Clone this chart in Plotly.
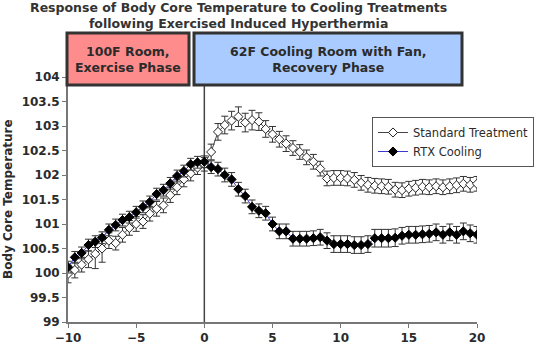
import plotly.graph_objects as go

# Time relative to start of the cooling phase (minutes)
minutes = [
    -10, -9.5, -9, -8.5, -8, -7.5, -7, -6.5, -6, -5.5,
    -5, -4.5, -4, -3.5, -3, -2.5, -2, -1.5, -1, -0.5,
    0, 0.5, 1, 1.5, 2, 2.5, 3, 3.5, 4, 4.5,
    5, 5.5, 6, 6.5, 7, 7.5, 8, 8.5, 9, 9.5,
    10, 10.5, 11, 11.5, 12, 12.5, 13, 13.5, 14, 14.5,
    15, 15.5, 16, 16.5, 17, 17.5, 18, 18.5, 19, 19.5, 20,
]

standard_temp = [
    99.98, 100.06, 100.17, 100.28, 100.39, 100.50, 100.66, 100.61, 100.78, 100.92,
    101.00, 101.05, 101.21, 101.31, 101.38, 101.59, 101.75, 101.91, 102.03, 102.15,
    102.22, 102.47, 102.88, 103.02, 103.11, 103.19, 103.07, 103.12, 103.09, 102.94,
    102.83, 102.73, 102.64, 102.55, 102.47, 102.36, 102.27, 102.13, 101.93, 101.94,
    101.94, 101.93, 101.90, 101.84, 101.80, 101.78, 101.77, 101.76, 101.70, 101.69,
    101.72, 101.74, 101.76, 101.75, 101.77, 101.75, 101.77, 101.79, 101.82, 101.80, 101.82,
]
standard_err = [
    0.18, 0.16, 0.15, 0.17, 0.30, 0.28, 0.16, 0.14, 0.15, 0.15,
    0.15, 0.14, 0.15, 0.15, 0.15, 0.15, 0.15, 0.15, 0.15, 0.14,
    0.14, 0.16, 0.17, 0.18, 0.19, 0.20, 0.19, 0.20, 0.18, 0.17,
    0.16, 0.16, 0.16, 0.15, 0.15, 0.15, 0.15, 0.15, 0.15, 0.15,
    0.15, 0.15, 0.15, 0.15, 0.15, 0.15, 0.15, 0.15, 0.15, 0.15,
    0.15, 0.15, 0.15, 0.15, 0.15, 0.15, 0.15, 0.15, 0.15, 0.15, 0.15,
]

rtx_temp = [
    100.12, 100.32, 100.41, 100.57, 100.64, 100.72, 100.88, 100.98, 101.08, 101.14,
    101.24, 101.35, 101.45, 101.61, 101.69, 101.83, 101.98, 102.08, 102.22, 102.26,
    102.27, 102.16, 102.12, 102.00, 101.91, 101.71, 101.57, 101.35, 101.27, 101.22,
    101.00, 100.85, 100.85, 100.70, 100.70, 100.70, 100.71, 100.73, 100.66, 100.59,
    100.59, 100.59, 100.57, 100.57, 100.59, 100.71, 100.71, 100.71, 100.72, 100.76,
    100.78, 100.78, 100.79, 100.80, 100.83, 100.78, 100.83, 100.78, 100.85, 100.81, 100.78,
]
rtx_err = [
    0.12, 0.12, 0.12, 0.12, 0.12, 0.12, 0.12, 0.12, 0.12, 0.12,
    0.12, 0.12, 0.12, 0.12, 0.12, 0.12, 0.12, 0.12, 0.12, 0.12,
    0.12, 0.13, 0.14, 0.14, 0.14, 0.14, 0.14, 0.14, 0.14, 0.14,
    0.14, 0.15, 0.15, 0.15, 0.15, 0.15, 0.15, 0.16, 0.16, 0.17,
    0.17, 0.17, 0.17, 0.17, 0.17, 0.18, 0.18, 0.18, 0.18, 0.17,
    0.17, 0.17, 0.17, 0.17, 0.17, 0.17, 0.17, 0.17, 0.17, 0.17, 0.17,
]

phase_labels = ["100F Room,<br>Exercise Phase", "62F Cooling Room with Fan,<br>Recovery Phase"]
phase_colors = ["#FF8C8C", "#AACBFF"]

W, H = 549, 344
ML, MR, MT, MB = 68, 72, 77, 22
PW, PH = W - ML - MR, H - MT - MB


def px(x):
    return (x - ML) / PW


def py(y):
    return (H - MB - y) / PH


FONT = "DejaVu Sans"
TXT = "#2b2b2b"

fig = go.Figure()

fig.add_trace(go.Scatter(
    x=minutes, y=standard_temp, name="Standard Treatment", mode="lines+markers",
    line=dict(color="#444444", width=1),
    marker=dict(symbol="diamond", size=7, color="white", line=dict(color="#222222", width=1)),
    error_y=dict(type="data", array=standard_err, color="#333333", thickness=1, width=3.5),
))
fig.add_trace(go.Scatter(
    x=minutes, y=rtx_temp, name="RTX Cooling", mode="lines+markers",
    line=dict(color="#3a3ad0", width=1),
    marker=dict(symbol="diamond", size=7, color="black", line=dict(color="black", width=1)),
    error_y=dict(type="data", array=rtx_err, color="#333333", thickness=1, width=3.5),
))

# start of the cooling phase
fig.add_shape(type="line", xref="x", yref="y", x0=0, x1=0, y0=99, y1=104,
              line=dict(color="#444444", width=1.5), layer="below")

# phase header boxes
boxes = [(67, 189), (194, 462)]
for (x0, x1), label, color in zip(boxes, phase_labels, phase_colors):
    fig.add_shape(type="rect", xref="paper", yref="paper",
                  x0=px(x0), x1=px(x1), y0=py(85), y1=py(33),
                  fillcolor=color, line=dict(color="#333333", width=3), layer="above")
    fig.add_annotation(xref="paper", yref="paper", x=px((x0 + x1) / 2), y=py(59),
                       text=label, showarrow=False, xanchor="center", yanchor="middle",
                       font=dict(family=FONT, size=12.5, color=TXT, weight="bold"))

fig.add_annotation(
    xref="paper", yref="paper", x=px(238), y=py(15),
    text="Response of Body Core Temperature to Cooling Treatments<br>following Exercised Induced Hyperthermia",
    showarrow=False, xanchor="center", yanchor="middle",
    font=dict(family=FONT, size=12.5, color="#333333", weight="bold"),
)
fig.add_annotation(
    xref="paper", yref="paper", x=px(8), y=py(199), text="Body Core Temperature",
    textangle=-90, showarrow=False, xanchor="center", yanchor="middle",
    font=dict(family=FONT, size=12, color=TXT, weight="bold"),
)

axis_common = dict(
    showgrid=False, zeroline=False, showline=True, linecolor="#777777", linewidth=2,
    ticks="outside", ticklen=4, tickcolor="#777777", tickwidth=1, automargin=False,
    tickfont=dict(family=FONT, size=12, color=TXT, weight="bold"),
)
fig.update_xaxes(range=[-10, 20], tickmode="linear", tick0=-10, dtick=5, **axis_common)
fig.update_yaxes(range=[99, 104], tickmode="linear", tick0=99, dtick=0.5, **axis_common)

fig.update_layout(
    width=W, height=H,
    margin=dict(l=ML, r=MR, t=MT, b=MB, pad=0, autoexpand=False),
    paper_bgcolor="white", plot_bgcolor="white",
    showlegend=True,
    legend=dict(
        x=px(372), y=py(117), xanchor="left", yanchor="top",
        bgcolor="white", bordercolor="#555555", borderwidth=1,
        font=dict(family=FONT, size=11.5, color=TXT),
        tracegroupgap=0, itemwidth=30,
    ),
)

fig.write_html("out.html")
